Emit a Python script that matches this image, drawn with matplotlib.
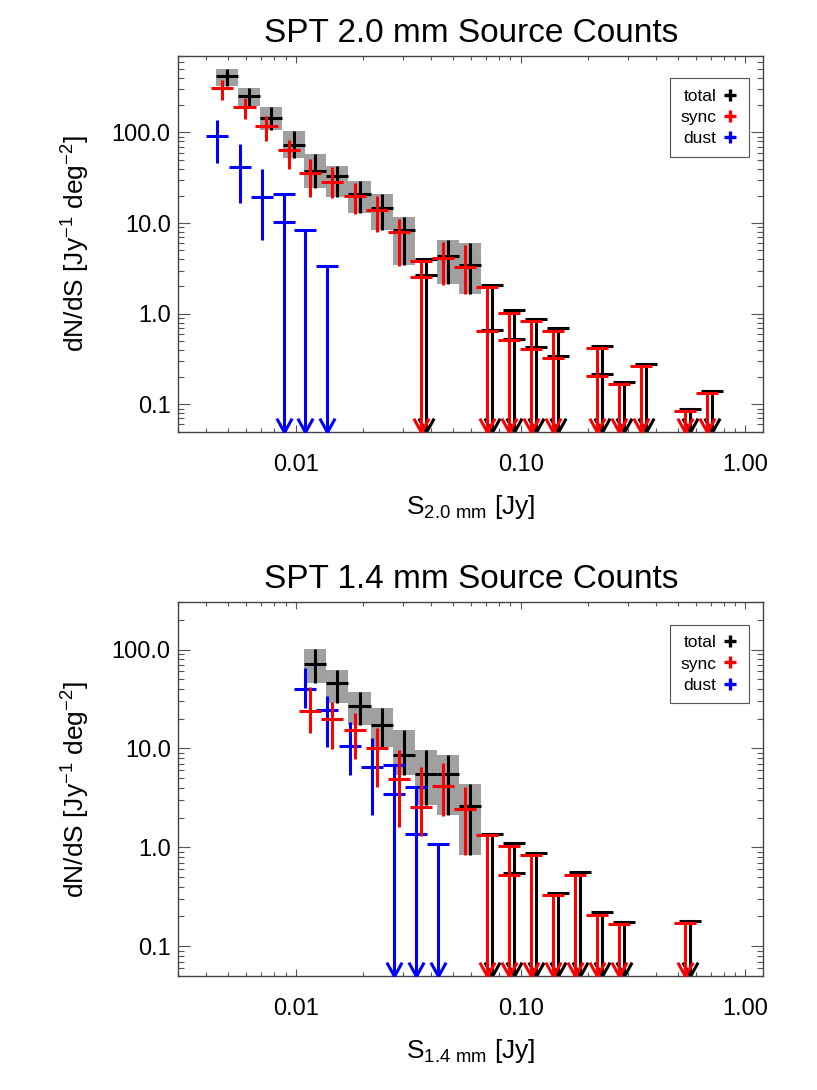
import numpy as np
import matplotlib
matplotlib.use('Agg')
import matplotlib.pyplot as plt
from matplotlib.lines import Line2D
from matplotlib.path import Path
from matplotlib.patches import Rectangle
from matplotlib.ticker import NullFormatter

plt.rcParams['font.family'] = ['Liberation Sans', 'DejaVu Sans']
plt.rcParams['mathtext.default'] = 'regular'

# flux bin centres [Jy], shared by both bands
bins = [0.00496, 0.00622, 0.00779, 0.00977, 0.0122, 0.0153, 0.0192, 0.0241,
        0.0302, 0.0378, 0.0474, 0.0594, 0.0744, 0.0933, 0.117, 0.146, 0.184,
        0.230, 0.288, 0.361, 0.453, 0.567, 0.711]

# ---------------- 2.0 mm ----------------
tot20_k = [0, 1, 2, 3, 4, 5, 6, 7, 8, 10, 11]
tot20_val = [417, 250, 144, 73.1, 37.9, 33.1, 20.9, 14.8, 8.36, 4.31, 3.43]
tot20_lo = [323, 194, 107, 52.1, 24.6, 19.5, 13.0, 8.5, 3.43, 2.15, 1.67]
tot20_hi = [503, 310, 189, 104, 57.6, 42.7, 29.2, 20.8, 11.7, 6.48, 6.0]
tot20_ul_k = [9, 12, 13, 14, 15, 17, 18, 19, 21, 22]
tot20_ul_top = [4.06, 2.06, 1.09, 0.865, 0.704, 0.437, 0.175, 0.279, 0.0887, 0.142]
tot20_ul_val = [2.66, 0.67, 0.53, 0.427, 0.343, 0.217, None, None, None, None]

syn20_k = [0, 1, 2, 3, 4, 5, 6, 7, 8, 10, 11]
syn20_val = [310, 189, 119, 64.3, 35.5, 28.7, 20.0, 13.9, 8.0, 4.07, 3.28]
syn20_lo = [230, 141, 81, 39.6, 19.5, 18.8, 12.6, 8.0, 3.34, 2.06, 1.67]
syn20_hi = [384, 240, 153, 83, 50.7, 42, 27.5, 19.9, 11.1, 6.2, 5.7]
syn20_ul_k = [9, 12, 13, 14, 15, 17, 18, 19, 21, 22]
syn20_ul_top = [3.79, 1.97, 1.03, 0.822, 0.653, 0.416, 0.168, 0.263, 0.085, 0.133]
syn20_ul_val = [2.54, 0.648, 0.515, 0.409, 0.326, 0.207, None, None, None, None]

dst20_k = [0, 1, 2]
dst20_val = [91.9, 41.4, 19.5]
dst20_lo = [45.8, 16.5, 6.48]
dst20_hi = [138, 74.5, 39.4]
dst20_ul_k = [3, 4, 5]
dst20_ul_top = [20.8, 8.36, 3.34]
dst20_ul_val = [10.3, None, None]

# ---------------- 1.4 mm ----------------
tot14_k = [4, 5, 6, 7, 8, 9, 10, 11]
tot14_val = [70.9, 45.6, 26.9, 17.3, 8.6, 5.48, 5.48, 2.62]
tot14_lo = [45.6, 28.7, 17.3, 10.4, 5.4, 2.69, 2.13, 0.84]
tot14_hi = [100.5, 62.1, 37.5, 25.5, 15.4, 9.66, 8.6, 4.37]
tot14_ul_k = [12, 13, 14, 15, 16, 17, 18, 21]
tot14_ul_top = [1.37, 1.10, 0.873, 0.349, 0.561, 0.223, 0.177, 0.181]
tot14_ul_val = [None, 0.548, None, None, None, None, None, None]

syn14_k = [4, 5, 6, 7, 8, 9, 10, 11]
syn14_val = [24.1, 19.9, 15.4, 10.2, 4.89, 2.58, 4.18, 2.45]
syn14_lo = [14.3, 9.8, 7.78, 4.11, 1.62, 1.31, 2.05, 0.84]
syn14_hi = [42.1, 29.7, 22.7, 16.0, 9.66, 6.55, 7.2, 4.11]
syn14_ul_k = [12, 13, 14, 15, 16, 17, 18, 21]
syn14_ul_top = [1.32, 1.04, 0.834, 0.331, 0.527, 0.208, 0.168, 0.171]
syn14_ul_val = [None, 0.519, None, None, None, None, None, None]

dst14_k = [4, 5, 6, 7]
dst14_val = [39.9, 24.5, 10.7, 6.46]
dst14_lo = [25.5, 10.4, 5.4, 2.13]
dst14_hi = [65.5, 33.9, 18.7, 12.7]
dst14_ul_k = [8, 9, 10]
dst14_ul_top = [6.8, 4.11, 1.08]
dst14_ul_val = [3.47, 1.37, None]

HALF = 0.049          # half bin width in dex
LW = 2.2
GREY = '#a0a0a0'
XLIM = (0.003, 1.2)
vee = Path([(-0.55, 1.0), (0.0, 0.0), (0.55, 1.0)],
           [Path.MOVETO, Path.LINETO, Path.LINETO])


def centres(k, shift):
    return np.array([bins[i] for i in k]) * 10**shift


def draw_boxes(ax, k, lo, hi):
    for xc, l, h in zip(centres(k, 0.0), lo, hi):
        x0 = xc * 10**-HALF
        ax.add_patch(Rectangle((x0, l), xc * 10**HALF - x0, h - l,
                               fc=GREY, ec='none', zorder=1))


def draw_crosses(ax, k, val, lo, hi, color, shift, z):
    xc = centres(k, shift)
    ax.hlines(val, xc * 10**-HALF, xc * 10**HALF, colors=color, lw=LW, zorder=z)
    ax.vlines(xc, lo, hi, colors=color, lw=LW, zorder=z)


def draw_limits(ax, k, top, val, color, shift, z, ymin):
    xc = centres(k, shift)
    ax.hlines(top, xc * 10**-HALF, xc * 10**HALF, colors=color, lw=LW, zorder=z)
    v = np.array([np.nan if a is None else a for a in val])
    m = ~np.isnan(v)
    ax.hlines(v[m], xc[m] * 10**-HALF, xc[m] * 10**HALF, colors=color, lw=LW, zorder=z)
    ax.vlines(xc, ymin, top, colors=color, lw=LW, zorder=z)
    ax.plot(xc, np.full(len(xc), ymin), ls='none', marker=vee, ms=20,
            fillstyle='none', mec=color, mew=LW, zorder=z)


def setup(ax, ylim, title, band):
    ax.set_xscale('log')
    ax.set_yscale('log')
    ax.set_xlim(*XLIM)
    ax.set_ylim(*ylim)
    ax.set_xticks([0.01, 0.1, 1.0], ['0.01', '0.10', '1.00'])
    ax.set_yticks([0.1, 1, 10, 100], ['0.1', '1.0', '10.0', '100.0'])
    ax.xaxis.set_minor_formatter(NullFormatter())
    ax.yaxis.set_minor_formatter(NullFormatter())
    ax.tick_params(which='both', direction='in', top=True, right=True,
                   color='#555555', width=0.8, labelsize=17)
    ax.tick_params(axis='x', which='major', length=5, pad=16)
    ax.tick_params(axis='x', which='minor', length=3)
    ax.tick_params(axis='y', which='major', length=8.5, pad=5.5)
    ax.tick_params(axis='y', which='minor', length=4.5)
    for s in ax.spines.values():
        s.set_color('#444444')
        s.set_linewidth(1.0)
    ax.set_title(title, fontsize=24, pad=10)
    ax.set_ylabel('dN/dS [Jy$^{-1}$ deg$^{-2}$]', fontsize=19, labelpad=14)
    ax.set_xlabel('S$_{' + band + '}$ [Jy]', fontsize=19, labelpad=12)
    handles = [Line2D([], [], ls='none', marker='+', ms=9, mew=2.4, color=c, label=l)
               for c, l in [('k', 'total'), ('r', 'sync'), ('b', 'dust')]]
    leg = ax.legend(handles=handles, loc='upper right', bbox_to_anchor=(0.976, 0.94),
                    borderaxespad=0, markerfirst=False, fontsize=12.5,
                    handlelength=1.0, handletextpad=0.3, borderpad=0.6,
                    labelspacing=0.35, fancybox=False, framealpha=1)
    leg.get_frame().set_edgecolor('#555555')
    leg.get_frame().set_linewidth(0.8)


fig = plt.figure(figsize=(8.17, 10.9), dpi=100)
ax1 = fig.add_axes([0.2182, 0.6040, 0.7160, 0.3447])
ax2 = fig.add_axes([0.2182, 0.1046, 0.7160, 0.3428])

YMIN = 0.05
setup(ax1, (YMIN, 700), 'SPT 2.0 mm Source Counts', '2.0\\ mm')
draw_boxes(ax1, tot20_k, tot20_lo, tot20_hi)
draw_crosses(ax1, tot20_k, tot20_val, tot20_lo, tot20_hi, 'k', 0.0, 2)
draw_limits(ax1, tot20_ul_k, tot20_ul_top, tot20_ul_val, 'k', 0.0, 2, YMIN)
draw_crosses(ax1, dst20_k, dst20_val, dst20_lo, dst20_hi, 'b', -0.044, 3)
draw_limits(ax1, dst20_ul_k, dst20_ul_top, dst20_ul_val, 'b', -0.044, 3, YMIN)
draw_crosses(ax1, syn20_k, syn20_val, syn20_lo, syn20_hi, 'r', -0.022, 4)
draw_limits(ax1, syn20_ul_k, syn20_ul_top, syn20_ul_val, 'r', -0.022, 4, YMIN)

setup(ax2, (YMIN, 300), 'SPT 1.4 mm Source Counts', '1.4\\ mm')
draw_boxes(ax2, tot14_k, tot14_lo, tot14_hi)
draw_crosses(ax2, tot14_k, tot14_val, tot14_lo, tot14_hi, 'k', 0.0, 2)
draw_limits(ax2, tot14_ul_k, tot14_ul_top, tot14_ul_val, 'k', 0.0, 2, YMIN)
draw_crosses(ax2, dst14_k, dst14_val, dst14_lo, dst14_hi, 'b', -0.044, 3)
draw_limits(ax2, dst14_ul_k, dst14_ul_top, dst14_ul_val, 'b', -0.044, 3, YMIN)
draw_crosses(ax2, syn14_k, syn14_val, syn14_lo, syn14_hi, 'r', -0.022, 4)
draw_limits(ax2, syn14_ul_k, syn14_ul_top, syn14_ul_val, 'r', -0.022, 4, YMIN)

fig.savefig('out.png', dpi=100)
